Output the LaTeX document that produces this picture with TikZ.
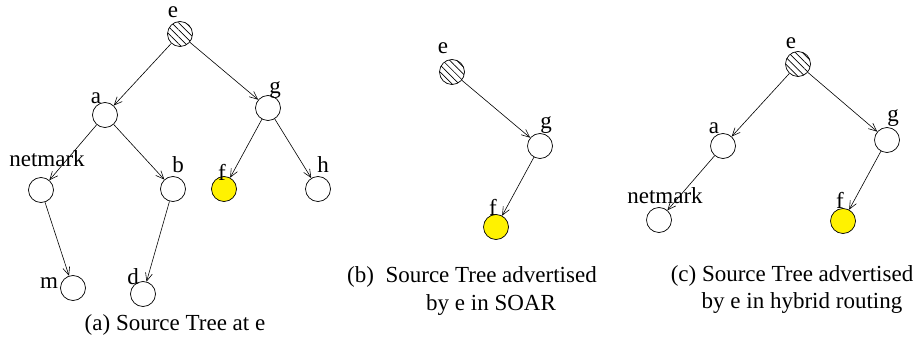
\documentclass[tikz,border=0pt]{standalone}
\usepackage{fontspec}
\setmainfont{Liberation Serif}
\usetikzlibrary{arrows.meta,patterns.meta}
\begin{document}
\begin{tikzpicture}[x=1pt,y=-1pt,
  rtr/.style={circle,draw,line width=0.7pt,minimum size=25pt,inner sep=0pt},
  src/.style={rtr,pattern={Lines[angle=-45,distance=5pt,line width=0.7pt]}},
  rcv/.style={rtr,fill=yellow},
  lbl/.style={inner sep=0pt,font=\fontsize{23}{27}\selectfont},
  hop/.style={-{Straight Barb[length=8pt,width=7pt]},line width=0.6pt}]
\useasboundingbox (0,0) rectangle (915,339);
% (a)
\node[src] (ae) at (180,34) {};
\node[rtr] (aa) at (105,115) {};
\node[rtr] (ag) at (268,108) {};
\node[rtr] (an) at (41,190) {};
\node[rtr] (ab) at (173,189) {};
\node[rcv] (af) at (224,189) {};
\node[rtr] (ah) at (318,189) {};
\node[rtr] (am) at (73,288) {};
\node[rtr] (ad) at (143,294) {};
\node[lbl] (ae-l) at (173,12) {e};
\node[lbl] (aa-l) at (96,98) {a};
\node[lbl] (ag-l) at (275,90) {g};
\node[lbl] (an-l) at (47,159) {netmark};
\node[lbl] (ab-l) at (178,165) {b};
\node[lbl] (af-l) at (222,172) {f};
\node[lbl] (ah-l) at (323,165) {h};
\node[lbl] (am-l) at (49,283) {m};
\node[lbl] (ad-l) at (133,277) {d};
\draw[hop] (ae) -- (aa);
\draw[hop] (ae) -- (ag);
\draw[hop] (aa) -- (an);
\draw[hop] (aa) -- (ab);
\draw[hop] (ag) -- (af);
\draw[hop] (ag) -- (ah);
\draw[hop] (an) -- (am);
\draw[hop] (ab) -- (ad);
\node[lbl] (a-cap) at (175,325) {(a) Source Tree at e};
% (b)
\node[src] (be) at (452,72) {};
\node[rtr] (bg) at (540,146) {};
\node[rcv] (bf) at (496,227) {};
\node[lbl] (be-l) at (443,48) {e};
\node[lbl] (bg-l) at (546,125) {g};
\node[lbl] (bf-l) at (493,207) {f};
\draw[hop] (be) -- (bg);
\draw[hop] (bg) -- (bf);
\node[lbl] (b-cap1) at (472,277) {(b)~ Source Tree advertised};
\node[lbl] (b-cap2) at (491,305) {by e in SOAR};
% (c)
\node[src] (ce) at (798,64) {};
\node[rtr] (ca) at (723,146) {};
\node[rtr] (cg) at (887,140) {};
\node[rtr] (cn) at (659,220) {};
\node[rcv] (cf) at (843,221) {};
\node[lbl] (ce-l) at (791,43) {e};
\node[lbl] (ca-l) at (714,128) {a};
\node[lbl] (cg-l) at (893,118) {g};
\node[lbl] (cn-l) at (665,196) {netmark};
\node[lbl] (cf-l) at (840,200) {f};
\draw[hop] (ce) -- (ca);
\draw[hop] (ce) -- (cg);
\draw[hop] (ca) -- (cn);
\draw[hop] (cg) -- (cf);
\node[lbl] (c-cap1) at (792,276) {(c) Source Tree advertised};
\node[lbl] (c-cap2) at (802,303) {by e in hybrid routing};
\end{tikzpicture}
\end{document}
